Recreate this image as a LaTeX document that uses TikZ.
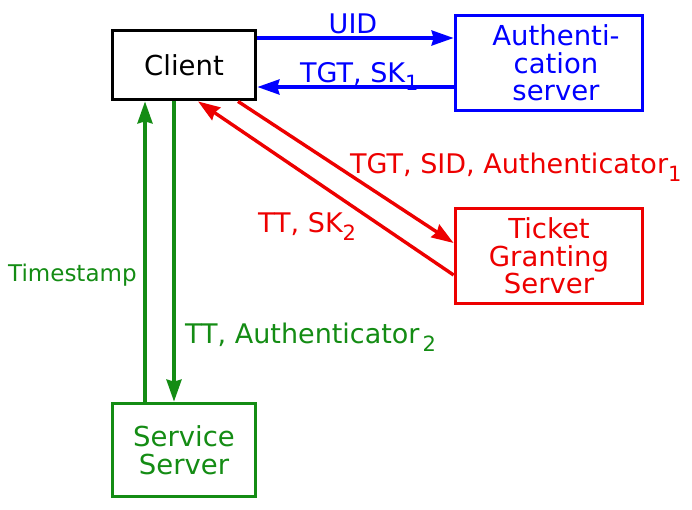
\documentclass[tikz,border=0pt]{standalone}
\usepackage{fontspec}
\setmainfont{DejaVu Sans}
\usepackage{tikz}
\usetikzlibrary{arrows.meta}
\usetikzlibrary{positioning}
\tikzset{box/.style = {draw, line width = 3.8pt, inner sep = 0, align = center,
    font = \fontsize{27.5}{27.5}\selectfont}}
\tikzset{lbl/.style = {inner sep = 0, anchor = base west, font = \fontsize{27}{28}\selectfont}}
\tikzset{arr/.style = {line width = 3.4pt, -{Stealth[length = 22pt, width = 15pt, inset = 2pt]}}}
\definecolor{mred}{rgb}{0.93, 0, 0}
\definecolor{mblue}{rgb}{0, 0, 1}
\definecolor{mgreen}{rgb}{0.08, 0.55, 0.08}
\newcommand{\lowidx}[1]{\raisebox{-0.33em}{\fontsize{21}{21}\selectfont #1}}

\begin{document}
\begin{tikzpicture}[x = 1pt, y = -1pt]
      \useasboundingbox (0, 0) rectangle (692, 509);

      \node [box, minimum width = 143, minimum height = 69] (client) at (184, 65) {Client};
      \node [box, mblue, minimum width = 187, minimum height = 95] (auth) at (549, 63)
        {\hspace*{14pt}Authenti-\\\hspace*{14pt}cation\\\hspace*{14pt}server};
      \node [box, mred, minimum width = 187, minimum height = 95] (tgs) at (549, 256)
        {Ticket\\Granting\\Server};
      \node [box, mgreen, minimum width = 143, minimum height = 93] (service) at (184, 450)
        {Service\\Server};

      \draw [arr, mblue] ([yshift = 27pt] client.east) -- ([yshift = 25pt] auth.west);
      \draw [arr, mblue] ([yshift = -24pt] auth.west) -- ([yshift = -22pt] client.east);
      \draw [arr, mred] ([xshift = 54pt] client.south) -- ([yshift = 13pt] tgs.west);
      \draw [arr, mred] ([yshift = -19pt] tgs.west) -- ([xshift = 14pt] client.south);
      \draw [arr, mgreen] ([xshift = -39pt] service.north) -- ([xshift = -39pt] client.south);
      \draw [arr, mgreen] ([xshift = -10pt] client.south) -- ([xshift = -10pt] service.north);

      \node [lbl, mblue, anchor = base] (uid) at (353, 33) {UID};
      \node [lbl, mblue] (tgtsk) at (300, 82) {TGT, SK\lowidx{1}};
      \node [lbl, mred] (tgtsid) at (350, 173) {TGT, SID, Authenticator\lowidx{1}};
      \node [lbl, mred] (ttsk) at (258, 232) {TT, SK\lowidx{2}};
      \node [lbl, mgreen, font = \fontsize{23}{24}\selectfont] (stamp) at (8, 281) {Timestamp};
      \node [lbl, mgreen] (ttauth) at (185, 343) {TT, Authenticator\kern3pt\lowidx{2}};

    \end{tikzpicture}
\end{document}
